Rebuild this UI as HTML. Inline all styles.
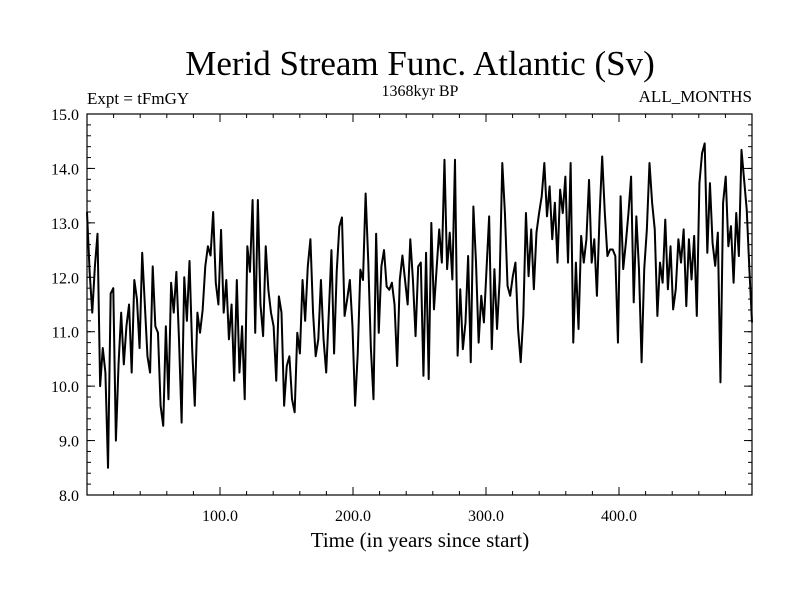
<!DOCTYPE html>
<html><head><meta charset="utf-8"><style>
html,body{margin:0;padding:0;background:#fff;}
svg{display:block;font-family:"Liberation Serif",serif;}
</style></head><body>
<svg id="chart" width="800" height="600" viewBox="0 0 800 600">
<rect x="0" y="0" width="800" height="600" fill="#fff"/>
<text x="420" y="75" font-size="35" text-anchor="middle">Merid Stream Func. Atlantic (Sv)</text>
<text x="87" y="104" font-size="17">Expt = tFmGY</text>
<text x="420" y="96" font-size="16" text-anchor="middle">1368kyr BP</text>
<text x="752" y="102" font-size="17" text-anchor="end">ALL_MONTHS</text>
<text x="420" y="547" font-size="21" text-anchor="middle">Time (in years since start)</text>
<g id="axes"></g>
<path id="series" fill="none" stroke="#000" stroke-width="2" stroke-linejoin="round"/>
<rect x="87" y="114" width="665" height="381" fill="none" stroke="#000" stroke-width="1.2"/>
</svg>
<script>
const yTicks = [8, 9, 10, 11, 12, 13, 14, 15];
const yTickLabels = ["8.0", "9.0", "10.0", "11.0", "12.0", "13.0", "14.0", "15.0"];
const xTicks = [100, 200, 300, 400];
const xTickLabels = ["100.0", "200.0", "300.0", "400.0"];
const values = [
13.2,12.1,11.35,12.2,12.8,10.0,10.7,10.25,8.5,11.7,11.8,9.0,10.4,11.35,10.4,11.1,11.5,10.25,11.95,11.6,10.7,12.45,11.5,10.55,10.25,12.2,11.1,10.98,9.64,9.27,11.1,9.76,11.9,11.35,12.1,10.86,9.33,12.0,11.2,12.3,10.7,9.64,11.35,10.98,11.4,12.2,12.57,12.4,13.2,11.9,11.5,12.87,11.35,11.95,10.86,11.5,10.1,11.95,10.25,11.1,9.76,12.57,12.1,13.42,
10.98,13.42,11.5,10.92,12.57,11.77,11.35,11.1,10.1,11.65,11.35,9.64,10.37,10.55,9.76,9.52,10.98,10.6,11.95,11.2,12.2,12.7,11.35,10.55,10.86,11.95,10.86,10.25,11.35,12.5,10.6,12.1,12.93,13.1,11.29,11.6,11.95,11.1,9.64,10.6,12.14,11.95,13.54,12.3,10.7,9.76,12.8,10.98,12.2,12.5,11.83,11.77,11.9,11.5,10.37,11.95,12.4,11.95,11.5,12.7,11.95,10.92,12.2,
12.27,10.19,12.45,10.13,13.0,11.41,12.15,12.88,12.27,14.16,12.15,12.82,11.96,14.16,10.56,11.78,10.68,11.17,12.39,10.44,13.3,12.27,10.8,11.66,11.17,12.15,13.12,10.68,12.15,11.05,11.96,14.1,13.18,11.84,11.66,12.02,12.27,11.05,10.44,11.29,13.18,12.02,12.88,11.78,12.82,13.18,13.49,14.1,13.12,13.67,12.7,13.37,12.27,13.61,13.18,13.85,12.27,14.1,10.8,12.27,11.05,12.76,12.27,
12.7,13.79,12.27,12.7,11.66,13.12,14.22,13.18,12.39,12.51,12.51,12.39,10.8,13.49,12.15,12.63,13.18,13.85,11.54,13.12,12.15,10.44,12.15,12.88,14.1,13.37,12.88,11.29,12.27,11.9,13.06,11.78,12.57,11.41,11.78,12.7,12.27,12.88,11.47,12.7,11.96,12.76,11.29,13.73,14.28,14.46,12.45,13.73,12.63,12.21,12.82,10.07,13.37,13.85,12.57,12.94,11.9,13.18,12.39,14.34,13.79,13.24,12.15,11.17
];
const X0 = 87, X1 = 752, Y0 = 495, Y1 = 114;
const xMin = 0, xMax = 500, yMin = 8, yMax = 15;
function sx(v){ return X0 + (v - xMin) / (xMax - xMin) * (X1 - X0); }
function sy(v){ return Y0 - (v - yMin) / (yMax - yMin) * (Y0 - Y1); }
const NS = "http://www.w3.org/2000/svg";
const axes = document.getElementById("axes");
function line(x1,y1,x2,y2,name){
  const l = document.createElementNS(NS,"line");
  l.setAttribute("x1",x1);l.setAttribute("y1",y1);l.setAttribute("x2",x2);l.setAttribute("y2",y2);
  l.setAttribute("stroke","#000");l.setAttribute("stroke-width","1");
  
  
  axes.appendChild(l);
}
function label(x,y,txt,anchor,name){
  const t = document.createElementNS(NS,"text");
  t.setAttribute("x",x);t.setAttribute("y",y);t.setAttribute("font-size","16");
  t.setAttribute("text-anchor",anchor);t.textContent = txt;
  
  
  axes.appendChild(t);
}
// minor ticks
for (let v = 8.2; v < 15; v += 0.2) {
  const y = sy(v);
  line(X0, y, X0+4, y, "y-minor-tick");
  line(X1, y, X1-4, y, "y-minor-tick-right");
}
for (let v = 20; v < 500; v += 20) {
  const x = sx(v);
  line(x, Y0, x, Y0-4, "x-minor-tick");
  line(x, Y1, x, Y1+4, "x-minor-tick-top");
}
yTicks.forEach((v,i)=>{
  const y = sy(v);
  line(X0, y, X0+8, y, "y-major-tick");
  line(X1, y, X1-8, y, "y-major-tick-right");
  label(X0-8, y+6, yTickLabels[i], "end", "y-tick-label");
});
xTicks.forEach((v,i)=>{
  const x = sx(v);
  line(x, Y0, x, Y0-8, "x-major-tick");
  line(x, Y1, x, Y1+8, "x-major-tick-top");
  label(x, Y0+26, xTickLabels[i], "middle", "x-tick-label");
});
const n = values.length;
let d = "";
values.forEach((v,i)=>{
  const yr = xMin + i * (xMax - xMin) / (n - 1);
  d += (i ? "L" : "M") + sx(yr).toFixed(2) + "," + sy(v).toFixed(2);
});
document.getElementById("series").setAttribute("d", d);
</script>
</body></html>
